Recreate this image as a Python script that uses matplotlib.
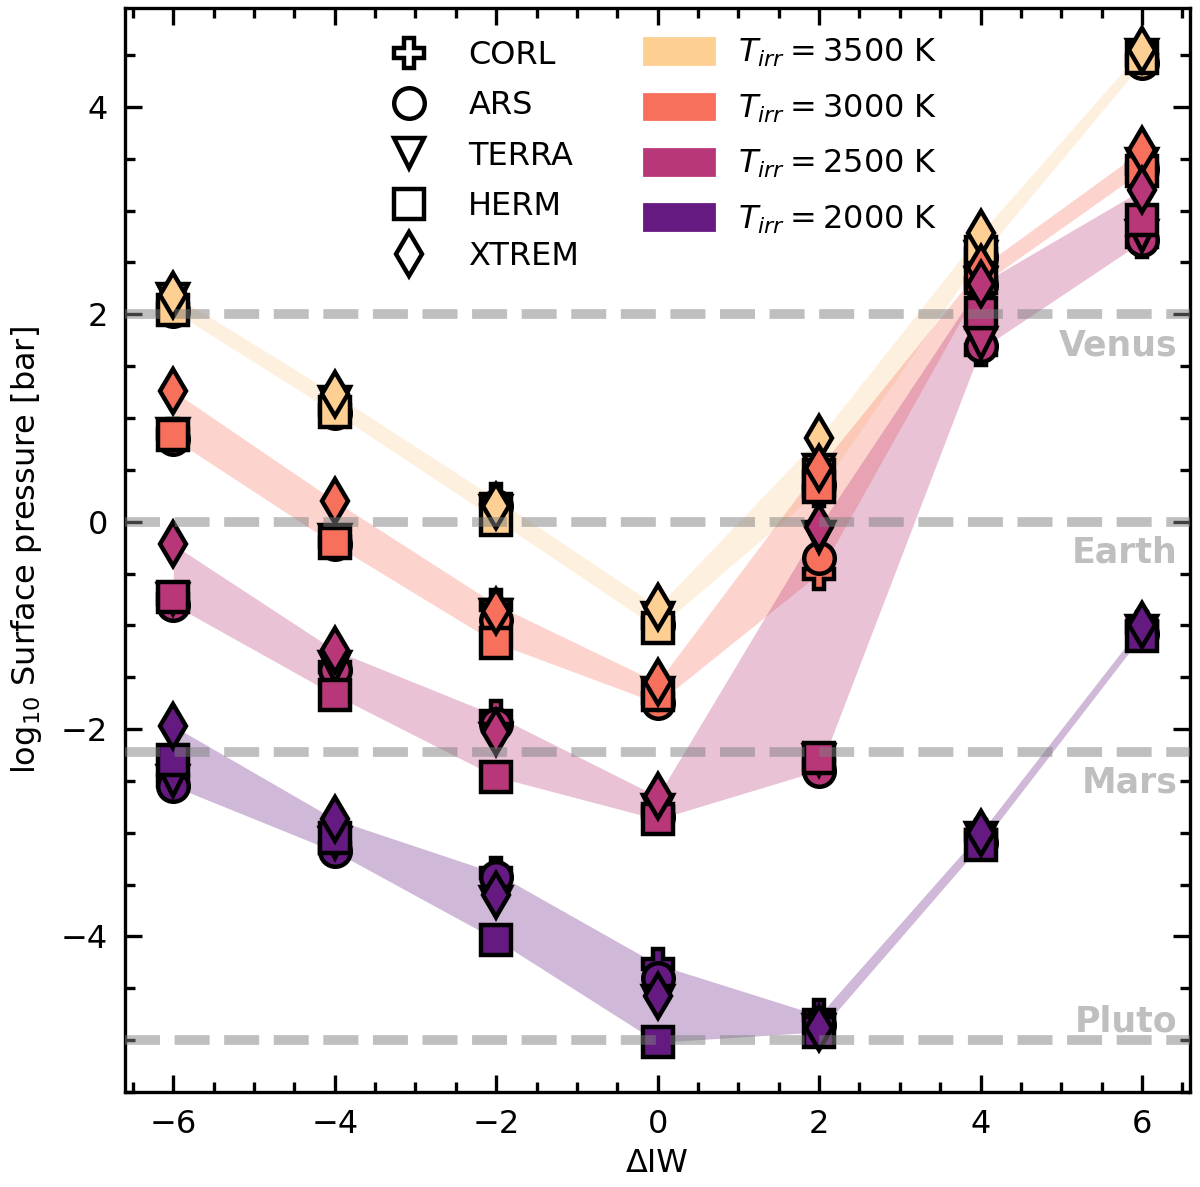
import matplotlib.pyplot as plt
from matplotlib.lines import Line2D
from matplotlib.patches import Patch

plt.rcParams['font.size'] = 11.5

# Delta IW grid
x = [-6, -4, -2, 0, 2, 4, 6]

models = ['CORL', 'ARS', 'TERRA', 'HERM', 'XTREM']
markers = ['P', 'o', 'v', 's', 'd']

# log10 surface pressure [bar], one row per model (CORL, ARS, TERRA, HERM, XTREM)
p3500 = [[2.05, 1.08, 0.22, -0.98, 0.30, 2.58, 4.45],
         [2.03, 1.05, 0.15, -1.00, 0.35, 2.55, 4.42],
         [2.15, 1.15, 0.10, -0.93, 0.50, 2.55, 4.50],
         [2.04, 1.06, 0.02, -1.03, 0.45, 2.60, 4.47],
         [2.19, 1.23, 0.15, -0.82, 0.81, 2.78, 4.55]]
p3000 = [[0.85, -0.20, -0.80, -1.70, -0.50, 2.30, 3.40],
         [0.80, -0.22, -0.95, -1.75, -0.35, 2.28, 3.40],
         [0.85, -0.18, -0.90, -1.65, -0.15, 2.30, 3.45],
         [0.84, -0.21, -1.17, -1.67, 0.33, 2.35, 3.38],
         [1.26, 0.20, -0.86, -1.55, 0.52, 2.45, 3.58]]
p2500 = [[-0.75, -1.40, -1.87, -2.80, -2.35, 1.66, 2.70],
         [-0.80, -1.43, -1.95, -2.85, -2.40, 1.69, 2.72],
         [-0.75, -1.40, -2.10, -2.78, -2.30, 1.72, 2.75],
         [-0.73, -1.67, -2.46, -2.87, -2.28, 2.01, 2.91],
         [-0.22, -1.24, -2.03, -2.65, -0.05, 2.29, 3.20]]
p2000 = [[-2.50, -3.15, -3.39, -4.27, -4.76, -3.02, -1.02],
         [-2.55, -3.18, -3.43, -4.40, -4.85, -3.10, -1.08],
         [-2.50, -3.10, -3.67, -4.62, -4.90, -3.05, -1.05],
         [-2.30, -3.05, -4.03, -5.02, -4.92, -3.12, -1.10],
         [-1.97, -2.87, -3.60, -4.57, -4.88, -3.00, -1.00]]

temps = [3500, 3000, 2500, 2000]
data = [p3500, p3000, p2500, p2000]
cvals = [0.9, 0.7, 0.5, 0.3]

# reference surface pressures
planets = ['Venus', 'Earth', 'Mars', 'Pluto']
planet_p = [2.0, 0.0, -2.22, -5.0]

fig = plt.figure(figsize=(6, 5.935), dpi=200)
ax = fig.add_axes([0.104, 0.080, 0.888, 0.913])

colors = [plt.cm.magma(c) for c in cvals]

for T, p, col in zip(temps, data, colors):
    lo = [min(v) for v in zip(*p)]
    hi = [max(v) for v in zip(*p)]
    ax.fill_between(x, lo, hi, color=col, alpha=0.3, lw=0, zorder=1)
    for row, m in zip(p, markers):
        ax.plot(x, row, ls='none', marker=m, ms=11, mfc=col, mec='k',
                mew=1.6, zorder=3)

for name, yp in zip(planets, planet_p):
    ax.axhline(yp, color='grey', alpha=0.5, lw=3.5, ls=(0, (3.6, 1.5)), zorder=5)
    dy = 0.18 if name == 'Pluto' else -0.3
    ax.text(6.44, yp + dy, name, color='grey', alpha=0.5, fontweight='bold',
            fontsize=12.5, ha='right', va='center')

ax.set_xlim(-6.6, 6.6)
ax.set_ylim(-5.5, 4.95)
ax.set_xticks(x)
ax.set_yticks([-4, -2, 0, 2, 4])
ax.minorticks_on()
ax.xaxis.set_minor_locator(plt.MultipleLocator(0.5))
ax.yaxis.set_minor_locator(plt.MultipleLocator(0.5))
ax.tick_params(which='both', direction='in', top=True, right=True, width=1.2,
               pad=6)
ax.tick_params(which='major', length=6)
ax.tick_params(which='minor', length=3.5)
for s in ax.spines.values():
    s.set_linewidth(1.2)

ax.set_xlabel('ΔIW', labelpad=3)
ax.set_ylabel('log$_{10}$ Surface pressure [bar]', labelpad=6)

h1 = [Line2D([], [], ls='none', marker=m, ms=11, mfc='none', mec='k', mew=1.6)
      for m in markers]
leg1 = ax.legend(h1, models, loc='upper left', bbox_to_anchor=(0.21, 0.997),
                 frameon=False, handletextpad=0.85, labelspacing=0.6)
ax.add_artist(leg1)
h2 = [Patch(color=c) for c in colors]
lab2 = ['$T_{irr} = %d$ K' % T for T in temps]
ax.legend(h2, lab2, loc='upper left', bbox_to_anchor=(0.46, 1.0),
          frameon=False, handlelength=2.2, handleheight=0.85, handletextpad=0.75,
          labelspacing=0.72)

plt.savefig('out.png', dpi=200)
